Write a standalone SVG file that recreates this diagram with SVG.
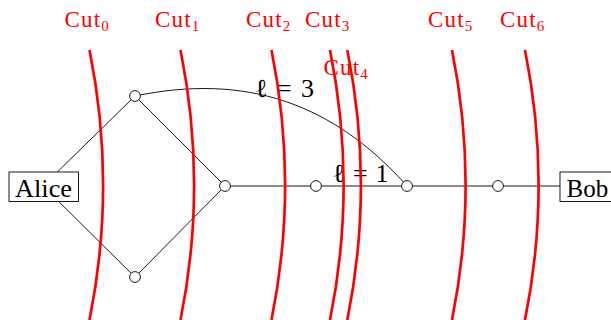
<svg xmlns="http://www.w3.org/2000/svg" width="611" height="320" viewBox="0 0 611 320">
<style>
.edge{fill:none;stroke:#000;stroke-width:0.9}
.node{fill:#fff;stroke:#000;stroke-width:0.9}
.box{fill:#fff;stroke:#000;stroke-width:0.9}
.lbl{font-family:"Liberation Serif",serif;font-size:25px;fill:#000}
.math{font-family:"Liberation Serif","DejaVu Serif",serif;font-size:26px;fill:#000}
.ell{font-style:italic}
.cut{fill:none;stroke:#ff0000;stroke-width:2.7}
.cutlbl{font-family:"Liberation Serif",serif;font-size:23px;fill:#ff0000;letter-spacing:1.2px}
.sub{font-size:15px;letter-spacing:0}
</style>
<g id="connectors">
<line class="edge" x1="43" y1="186" x2="135" y2="96"/>
<line class="edge" x1="43" y1="186" x2="135" y2="277"/>
<line class="edge" x1="135" y1="96" x2="225" y2="186"/>
<line class="edge" x1="135" y1="277" x2="225" y2="186"/>
<line class="edge" x1="225" y1="186" x2="580" y2="186"/>
<path class="edge" d="M135,96 C244.8,73.2 332.4,102.2 407,186"/>
</g>
<g id="alice"><rect class="box" x="9" y="172" width="69.5" height="29.5"/><text class="lbl" x="15" y="196.5" textLength="57" lengthAdjust="spacingAndGlyphs">Alice</text></g>
<g id="bob"><rect class="box" x="560" y="172" width="60" height="29.5"/><text class="lbl" x="566.5" y="196.5">Bob</text></g>
<g id="n1"><circle class="node" cx="135" cy="96" r="5.4"/></g>
<g id="n2"><circle class="node" cx="135" cy="277" r="5.4"/></g>
<g id="n3"><circle class="node" cx="225" cy="186" r="5.4"/></g>
<g id="n4"><circle class="node" cx="316" cy="186" r="5.4"/></g>
<g id="n5"><circle class="node" cx="407" cy="186" r="5.4"/></g>
<g id="n6"><circle class="node" cx="498" cy="186" r="5.4"/></g>
<g id="edge-labels">
<text class="math" x="255" y="96.5" textLength="59" lengthAdjust="spacing">ℓ = 3</text>
<text class="math" x="332.5" y="181.5" textLength="56" lengthAdjust="spacing">ℓ = 1</text>
</g>
<g id="cut-labels">
<text class="cutlbl" x="64.5" y="27">Cut<tspan class="sub" dy="3.5">0</tspan></text>
<text class="cutlbl" x="155" y="27">Cut<tspan class="sub" dy="3.5">1</tspan></text>
<text class="cutlbl" x="246" y="27">Cut<tspan class="sub" dy="3.5">2</tspan></text>
<text class="cutlbl" x="305" y="27">Cut<tspan class="sub" dy="3.5">3</tspan></text>
<text class="cutlbl" x="323.5" y="75">Cut<tspan class="sub" dy="3.5">4</tspan></text>
<text class="cutlbl" x="428" y="27">Cut<tspan class="sub" dy="3.5">5</tspan></text>
<text class="cutlbl" x="500" y="27">Cut<tspan class="sub" dy="3.5">6</tspan></text>
</g>
<g id="cuts">
<path class="cut" d="M89.5,50 A682,682 0 0 1 89.5,320"/>
<path class="cut" d="M180.5,50 A682,682 0 0 1 180.5,320"/>
<path class="cut" d="M271.5,50 A682,682 0 0 1 271.5,320"/>
<path class="cut" d="M330,50 A682,682 0 0 1 330,320"/>
<path class="cut" d="M347.3,50 A682,682 0 0 1 347.3,320"/>
<path class="cut" d="M452,50 A682,682 0 0 1 452,320"/>
<path class="cut" d="M525,50 A682,682 0 0 1 525,320"/>
</g>
</svg>
